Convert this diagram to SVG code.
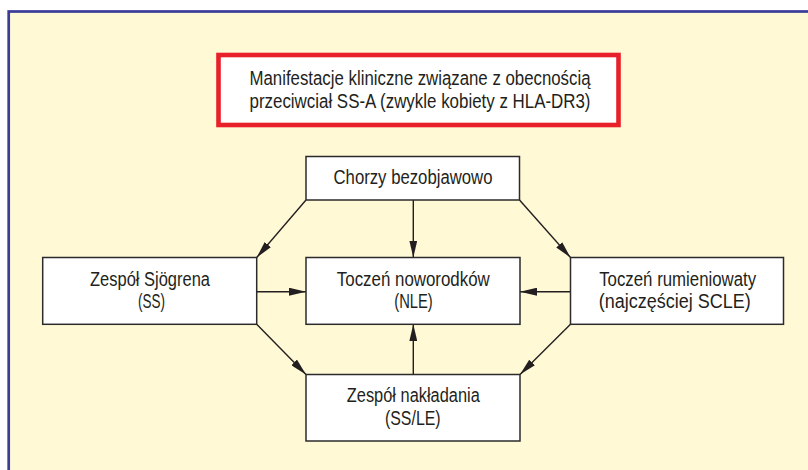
<svg xmlns="http://www.w3.org/2000/svg" width="808" height="470" viewBox="0 0 808 470">
  <style>
    .box { fill: #ffffff; stroke: #2b2b2b; stroke-width: 1.5; }
    .title { fill: #ffffff; stroke: #e8202a; stroke-width: 4.6; }
    .lbl { font-family: "Liberation Sans", Arial, sans-serif; font-size: 19.5px; fill: #231f20; text-anchor: middle; }
    .edge { stroke: #231f20; stroke-width: 1.4; fill: none; marker-end: url(#arr); }
  </style>
  <defs>
    <marker id="arr" markerUnits="userSpaceOnUse" markerWidth="17" markerHeight="8" refX="17" refY="4" orient="auto">
      <path d="M0,0 L17,4 L0,8 z" fill="#231f20"/>
    </marker>
  </defs>
  <rect x="0" y="0" width="808" height="470" fill="#ffffff"/>
  <rect id="frame" x="8.7" y="11.5" width="820" height="480" fill="#fff9d6" stroke="#3b3b98" stroke-width="2.7"/>

  <g id="title">
    <rect class="title" x="218.5" y="55" width="400" height="70"/>
    <text class="lbl" x="420" y="85" textLength="341" lengthAdjust="spacingAndGlyphs">Manifestacje kliniczne związane z obecnością</text>
    <text class="lbl" x="420" y="107.7" textLength="341" lengthAdjust="spacingAndGlyphs">przeciwciał SS-A (zwykle kobiety z HLA-DR3)</text>
  </g>

  <g id="connectors">
    <line class="edge" x1="413.3" y1="200" x2="413.3" y2="257.5"/>
    <line class="edge" x1="306" y1="200" x2="256.7" y2="257.5"/>
    <line class="edge" x1="519.5" y1="200" x2="570.5" y2="257.5"/>
    <line class="edge" x1="256.7" y1="291.7" x2="306" y2="291.7"/>
    <line class="edge" x1="570.5" y1="291.7" x2="520" y2="291.7"/>
    <line class="edge" x1="256.7" y1="324.3" x2="306" y2="374.5"/>
    <line class="edge" x1="570.5" y1="324.3" x2="520" y2="374.5"/>
    <line class="edge" x1="413.3" y1="374.5" x2="413.3" y2="324.3"/>
  </g>

  <g id="chorzy">
    <rect class="box" x="306" y="156.5" width="213.5" height="43.5"/>
    <text class="lbl" x="413" y="184.3" textLength="159" lengthAdjust="spacingAndGlyphs">Chorzy bezobjawowo</text>
  </g>

  <g id="ss">
    <rect class="box" x="42.7" y="257.5" width="214" height="66.8"/>
    <text class="lbl" x="150" y="285.5" textLength="120" lengthAdjust="spacingAndGlyphs">Zespół Sjögrena</text>
    <text class="lbl" x="151.5" y="308" textLength="27" lengthAdjust="spacingAndGlyphs">(SS)</text>
  </g>

  <g id="nle">
    <rect class="box" x="306" y="257.5" width="214" height="66.8"/>
    <text class="lbl" x="413.3" y="285.5" textLength="153" lengthAdjust="spacingAndGlyphs">Toczeń noworodków</text>
    <text class="lbl" x="413.5" y="308" textLength="38.5" lengthAdjust="spacingAndGlyphs">(NLE)</text>
  </g>

  <g id="scle">
    <rect class="box" x="570.5" y="257.5" width="213" height="66.8"/>
    <text class="lbl" x="677.7" y="285.5" textLength="157" lengthAdjust="spacingAndGlyphs">Toczeń rumieniowaty</text>
    <text class="lbl" x="674.7" y="308" textLength="152" lengthAdjust="spacingAndGlyphs">(najczęściej SCLE)</text>
  </g>

  <g id="overlap">
    <rect class="box" x="306" y="374.5" width="214" height="66.5"/>
    <text class="lbl" x="413.3" y="402" textLength="133" lengthAdjust="spacingAndGlyphs">Zespół nakładania</text>
    <text class="lbl" x="412.8" y="425" textLength="55.7" lengthAdjust="spacingAndGlyphs">(SS/LE)</text>
  </g>
</svg>
